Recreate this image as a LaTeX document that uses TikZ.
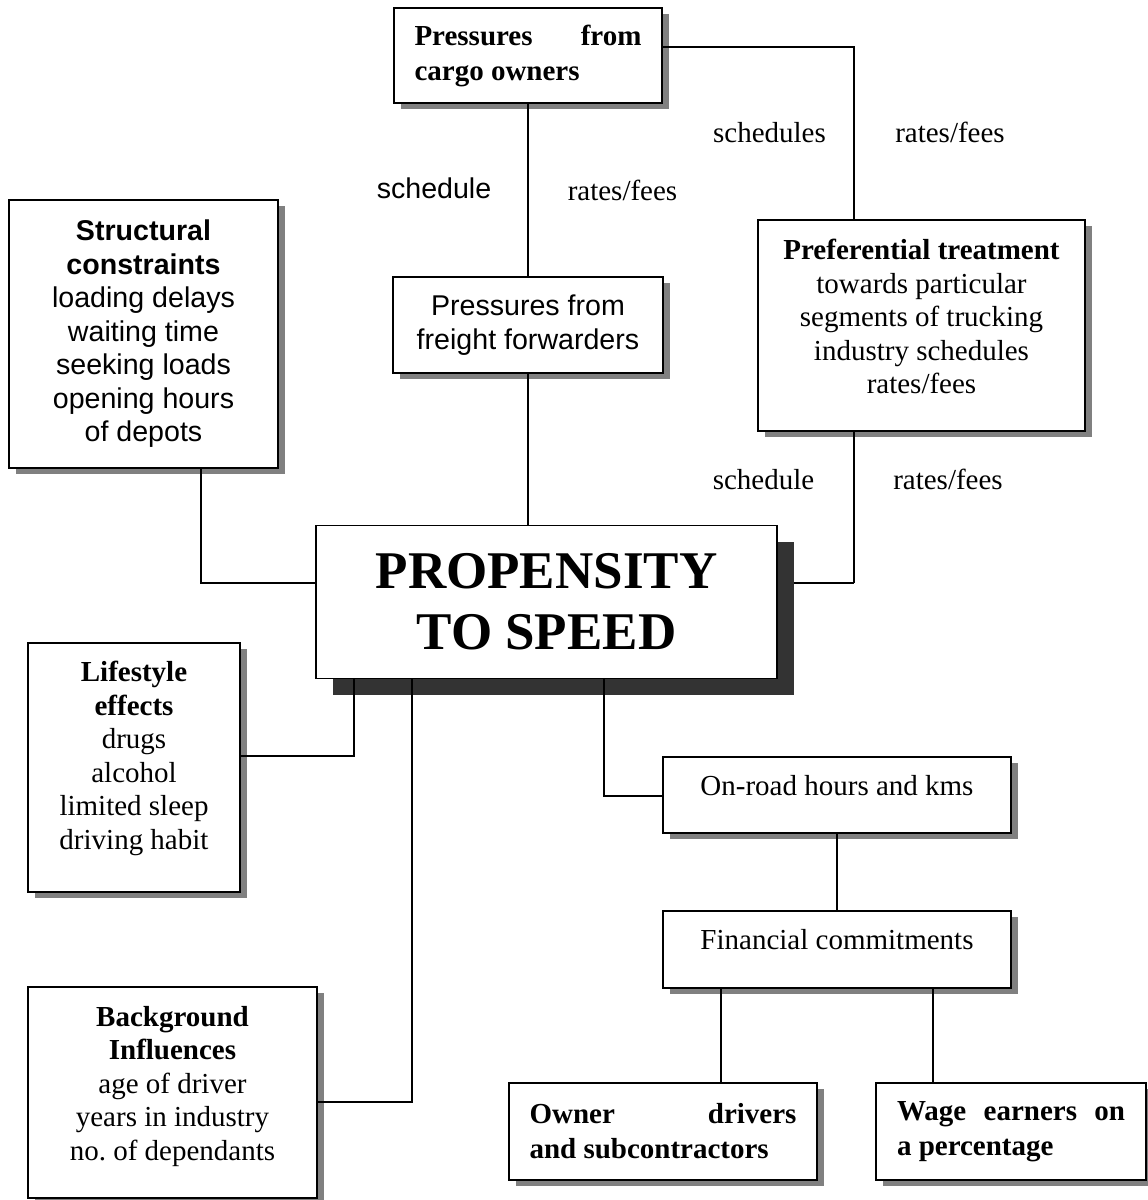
\documentclass[tikz,border=0pt]{standalone}
\usepackage{fontspec}
\setmainfont{Liberation Serif}
\setsansfont{Liberation Sans}
\usetikzlibrary{shadows,backgrounds}
\definecolor{shadowgray}{HTML}{808080}
\definecolor{darkshadow}{HTML}{333333}
\begin{document}
\begin{tikzpicture}[x=1pt,y=-1pt,
  boxlight/.style={draw, line width=1.8pt, fill=white, inner sep=0pt,
    drop shadow={shadow xshift=7pt,shadow yshift=-6pt,fill=shadowgray,opacity=1}},
  boxmain/.style={draw, line width=1.8pt, fill=white, inner sep=0pt,
    drop shadow={shadow xshift=17pt,shadow yshift=-16pt,fill=darkshadow,opacity=1}},
  serif/.style={inner sep=0pt, align=center, font=\fontsize{29}{33.5}\selectfont},
  sanstext/.style={inner sep=0pt, align=center, font=\fontsize{28.6}{33.5}\selectfont\sffamily},
  boldserif/.style={inner sep=0pt, align=center, font=\fontsize{29}{35}\selectfont\bfseries},
  conn/.style={draw, line width=1.8pt}
]
\useasboundingbox (0,0) rectangle (1148,1200);

% boxes
\node[boxlight, boldserif, minimum width=268pt, minimum height=95pt] (cargo) at (528,55.5)
  {\makebox[227pt][s]{Pressures from}\\\makebox[227pt][l]{cargo owners}};
\node[boxlight, sanstext, minimum width=270pt, minimum height=96pt] (freight) at (528,325)
  {Pressures from\\freight forwarders};
\node[boxlight, sanstext, minimum width=269pt, minimum height=268pt] (struct) at (143.5,334)
  {\textbf{Structural}\\\textbf{constraints}\\loading delays\\waiting time\\seeking loads\\opening hours\\of depots};
\node[boxlight, minimum width=327pt, minimum height=211pt] (pref) at (921.5,325.5) {};
\node[serif, anchor=north] (preft) at (921.5,239)
  {\textbf{Preferential treatment}\\towards particular\\segments of trucking\\industry schedules\\rates/fees};
\node[boxmain, minimum width=461pt, minimum height=153pt, align=center, font=\fontsize{53}{61}\selectfont\bfseries] (prop) at (546.5,602)
  {PROPENSITY\\TO SPEED};
\node[boxlight, minimum width=212pt, minimum height=249pt] (life) at (134,767.5) {};
\node[serif, anchor=north] (lifet) at (134,661)
  {\textbf{Lifestyle}\\\textbf{effects}\\drugs\\alcohol\\limited sleep\\driving habit};
\node[boxlight, minimum width=289pt, minimum height=211pt] (back) at (172.5,1092.5) {};
\node[serif, anchor=north] (backt) at (172.5,1006)
  {\textbf{Background}\\\textbf{Influences}\\age of driver\\years in industry\\no.\ of dependants};
\node[boxlight, minimum width=348pt, minimum height=76pt] (onroad) at (837,795) {};
\node[serif, anchor=north] (onroadt) at (837,775) {On-road hours and kms};
\node[boxlight, minimum width=348pt, minimum height=77pt] (fin) at (837,949.5) {};
\node[serif, anchor=north] (fint) at (837,929) {Financial commitments};
\node[boxlight, boldserif, minimum width=308pt, minimum height=97pt] (owner) at (663,1131.5)
  {\makebox[267pt][s]{Owner drivers}\\\makebox[267pt][l]{and subcontractors}};
\node[boxlight, boldserif, minimum width=270pt, minimum height=97pt] (wage) at (1011,1131.5)
  {\makebox[228pt][s]{Wage earners on}\\\makebox[228pt][l]{a percentage}};

% labels
\node[serif, anchor=base] (l1) at (769.5,142) {schedules};
\node[serif, anchor=base] (l2) at (950,142) {rates/fees};
\node[sanstext, anchor=base] (l3) at (434,198) {schedule};
\node[serif, anchor=base] (l4) at (622.5,200) {rates/fees};
\node[serif, anchor=base] (l5) at (763.5,489) {schedule};
\node[serif, anchor=base] (l6) at (948,489) {rates/fees};

% connectors
\coordinate (bA) at (854,47);
\draw[conn] (cargo.east |- bA) -- (bA) -- (bA |- pref.north);
\draw[conn] (cargo.south) -- (freight.north);
\draw[conn] (freight.south) -- (freight.south |- prop.north);
\coordinate (bB) at (201,583);
\draw[conn] (bB |- struct.south) -- (bB) -- (bB -| prop.west);
\coordinate (bC) at (854,583);
\draw[conn] (bC |- pref.south) -- (bC);
\begin{scope}[on background layer]
\draw[conn] (bC) -- (bC -| prop.east);
\end{scope}
\coordinate (bD) at (354,756);
\draw[conn] (bD |- prop.south) -- (bD) -- (bD -| life.east);
\coordinate (bE) at (412,1102);
\draw[conn] (bE |- prop.south) -- (bE) -- (bE -| back.east);
\coordinate (bF) at (604,796);
\draw[conn] (bF |- prop.south) -- (bF) -- (bF -| onroad.west);
\draw[conn] (onroad.south) -- (fin.north);
\coordinate (bG) at (721,0);
\draw[conn] (bG |- fin.south) -- (bG |- owner.north);
\coordinate (bH) at (933,0);
\draw[conn] (bH |- fin.south) -- (bH |- wage.north);
\end{tikzpicture}
\end{document}
